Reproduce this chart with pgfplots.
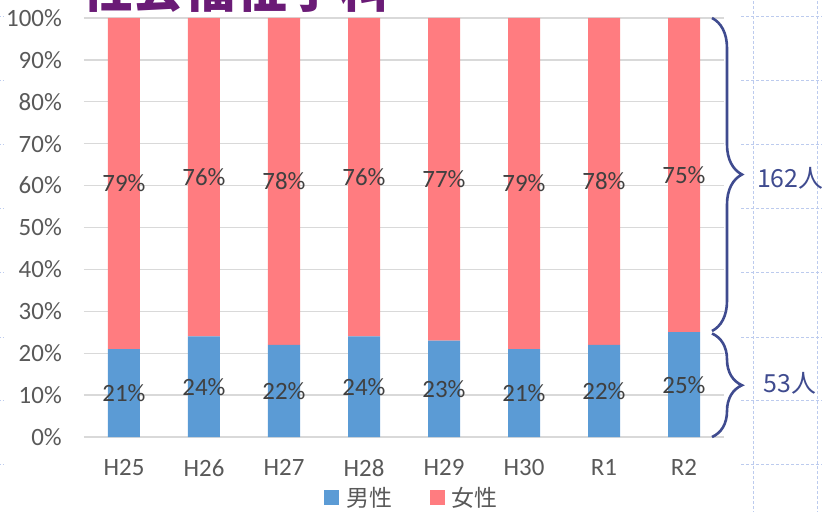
\documentclass[border=0pt]{standalone}
\usepackage{fontspec}
\setmainfont{Carlito}
\newfontfamily\jp{Noto Sans CJK JP}
\usepackage{pgfplots}
\pgfplotsset{compat=1.18}
\usetikzlibrary{decorations.pathreplacing}

\definecolor{male}{HTML}{5B9BD5}
\definecolor{female}{HTML}{FF7C80}
\definecolor{gridgray}{HTML}{D9D9D9}
\definecolor{ticktext}{HTML}{595959}
\definecolor{labeltext}{HTML}{404040}
\definecolor{bracecol}{HTML}{3F4B8F}
\definecolor{titlecol}{HTML}{6A1B76}
\definecolor{slidegrid}{HTML}{BCCBEE}

\pgfplotsset{
  sq legend/.style={legend image code/.code={\fill[##1] (0bp,-7.5bp) rectangle (15bp,7.5bp);}},
}

\begin{document}
\begin{tikzpicture}
\useasboundingbox (-84bp,-75bp) rectangle (738bp,437bp);

% slide background grid
\foreach \yy in {421,357,293,229,165,100,37,-27} {
  \draw[slidegrid, line width=0.8bp, dash pattern=on 3bp off 2bp] (657bp,\yy bp) -- (740bp,\yy bp);
  \draw[slidegrid, line width=0.8bp, dash pattern=on 3bp off 2bp] (-86bp,\yy bp) -- (-80bp,\yy bp);
}
\foreach \xx in {669,733} {
  \draw[slidegrid, line width=0.8bp, dash pattern=on 3bp off 2bp] (\xx bp,-77bp) -- (\xx bp,439bp);
}

\begin{axis}[
  at={(0,0)}, anchor=south west,
  scale only axis, width=640bp, height=419bp,
  ybar stacked, bar width=32bp,
  xmin=-0.5, xmax=7.5, ymin=0, ymax=100,
  xtick={0,...,7},
  xticklabels={H25,H26,H27,H28,H29,H30,R1,R2},
  ytick={0,10,...,100},
  yticklabel={\pgfmathprintnumber{\tick}\%},
  /pgf/number format/assume math mode=true,
  axis line style={draw=none},
  major tick length=0pt,
  ymajorgrids, grid style={gridgray, line width=1.3bp},
  ticklabel style={font=\fontsize{25}{29}\selectfont, text=ticktext},
  yticklabel style={inner sep=0pt, xshift=-22bp},
  xticklabel style={inner sep=0pt, yshift=-22bp},
  nodes near coords={\pgfmathprintnumber{\pgfplotspointmeta}\%},
  every node near coord/.append style={anchor=center,
    inner sep=0pt, text=labeltext, font=\fontsize{25}{29}\selectfont},
  legend style={at={(0.5125,-0.145)}, anchor=center, draw=none, fill=none,
    legend columns=2, font=\jp\fontsize{23}{27}\selectfont, text=ticktext,
    /tikz/every even column/.append style={column sep=36bp},
    /tikz/every odd column/.append style={column sep=5bp}},
  clip=false,
]
\addplot[fill=male, draw=none, sq legend] coordinates {(0,21) (1,24) (2,22) (3,24) (4,23) (5,21) (6,22) (7,25)};
\addplot[fill=female, draw=none, sq legend] coordinates {(0,79) (1,76) (2,78) (3,76) (4,77) (5,79) (6,78) (7,75)};
\legend{男性,女性}

\draw[bracecol, line width=2.6bp, decorate, decoration={brace, amplitude=30bp}]
  (axis cs:7.35,100) -- (axis cs:7.35,25.3);
\draw[bracecol, line width=2.6bp, decorate, decoration={brace, amplitude=30bp}]
  (axis cs:7.35,24.7) -- (axis cs:7.35,0);
\node[anchor=west, inner sep=0pt, text=bracecol, font=\jp\fontsize{25}{25}\selectfont]
  at (axis cs:7.91,61.8) {162人};
\node[anchor=west, inner sep=0pt, text=bracecol, font=\jp\fontsize{25}{25}\selectfont]
  at (axis cs:7.99,12.9) {53人};
\end{axis}

\node[anchor=base west, inner sep=0pt, text=titlecol, font=\jp\bfseries\fontsize{52}{52}\selectfont]
  at (-4bp,429bp) {社会福祉学科};
\end{tikzpicture}
\end{document}
